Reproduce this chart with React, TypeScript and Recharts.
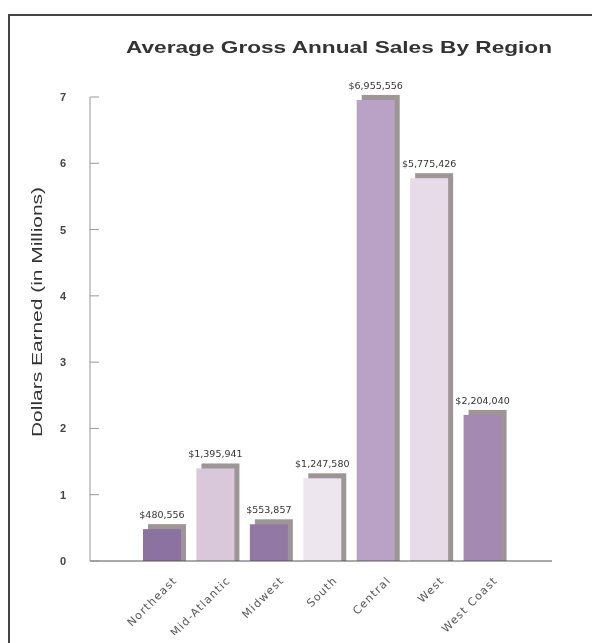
import { BarChart, Bar, XAxis, YAxis, Cell, LabelList } from "recharts";

const regions = ["Northeast", "Mid-Atlantic", "Midwest", "South", "Central", "West", "West Coast"];
const sales = [0.480556, 1.395941, 0.553857, 1.24758, 6.955556, 5.775426, 2.20404];
const salesLabels = ["$480,556", "$1,395,941", "$553,857", "$1,247,580", "$6,955,556", "$5,775,426", "$2,204,040"];
const yTicks = [0, 1, 2, 3, 4, 5, 6, 7];

const COLORS = ["#8c72a0", "#d8c8da", "#9279a5", "#eee6ee", "#b9a2c5", "#e6dbe6", "#a48ab2"];

const data = regions.map((r, i) => ({ region: r, value: sales[i], label: salesLabels[i] }));

const FONT = "Liberation Sans, Arial, sans-serif";
const WIDE = "DejaVu Sans, sans-serif";

const ShadowBar = (props: any) => {
  const { x, y, width, height, fill } = props;
  return (
    <g>
      <rect x={x + 5} y={y - 5} width={width} height={height + 5} fill="#9e9696" />
      <rect x={x} y={y} width={width} height={height} fill={fill} />
    </g>
  );
};

const YTick = (props: any) => {
  const { x, y, payload } = props;
  return (
    <g>
      <line x1={x} y1={y} x2={x + 9} y2={y} stroke="#999" />
      <text x={x - 27} y={y + 4} textAnchor="middle" fontSize={11} fontWeight="bold" fill="#444" fontFamily={FONT}>
        {payload.value}
      </text>
    </g>
  );
};

const XTick = (props: any) => {
  const { x, y, payload } = props;
  const ax = x + 16;
  const ay = y + 12;
  return (
    <text
      x={ax}
      y={ay}
      textAnchor="end"
      fontSize={11}
      letterSpacing={1.2}
      fill="#555"
      fontFamily={WIDE}
      transform={`rotate(-45, ${ax}, ${ay})`}
    >
      {payload.value}
    </text>
  );
};

const ValueLabel = (props: any) => {
  const { x, y, width, value } = props;
  return (
    <text x={x + width / 2} y={y - 11} textAnchor="middle" fontSize={9.5} fill="#333" fontFamily={WIDE}>
      {value}
    </text>
  );
};

export default function App() {
  return (
    <div style={{ position: "relative", width: 576, height: 627 }}>
      <svg width={592} height={643} style={{ position: "fixed", left: 0, top: 0 }}>
        <line x1={9} y1={15} x2={592} y2={15} stroke="#444" strokeWidth={2} />
        <line x1={9} y1={14} x2={9} y2={643} stroke="#444" strokeWidth={2} />
      </svg>
      <BarChart
        width={576}
        height={635}
        data={data}
        margin={{ top: 89, right: 32, bottom: 15, left: 0 }}
        style={{ position: "absolute", left: 0, top: 0 }}
      >
        <text
          x={331}
          y={45}
          textAnchor="middle"
          fontSize={17}
          fontWeight="bold"
          fill="#333"
          fontFamily={FONT}
          textLength={426}
          lengthAdjust="spacingAndGlyphs"
        >
          Average Gross Annual Sales By Region
        </text>
        <XAxis
          dataKey="region"
          interval={0}
          padding={{ left: 45, right: 43 }}
          height={67}
          tickLine={false}
          tick={<XTick />}
          stroke="#555"
        />
        <YAxis
          domain={[0, 7]}
          ticks={yTicks}
          width={82}
          tickSize={0}
          tickMargin={0}
          tickLine={false}
          tick={<YTick />}
          stroke="#999"
          label={{
            content: () => (
              <text
                x={34}
                y={304}
                textAnchor="middle"
                fontSize={14}
                fill="#333"
                fontFamily={FONT}
                textLength={250}
                lengthAdjust="spacingAndGlyphs"
                transform="rotate(-90, 34, 304)"
              >
                Dollars Earned (in Millions)
              </text>
            ),
          }}
        />
        <Bar dataKey="value" barSize={38} shape={<ShadowBar />} isAnimationActive={false}>
          {data.map((d, i) => (
            <Cell key={d.region} fill={COLORS[i]} />
          ))}
          <LabelList dataKey="label" content={<ValueLabel />} />
        </Bar>
      </BarChart>
    </div>
  );
}
